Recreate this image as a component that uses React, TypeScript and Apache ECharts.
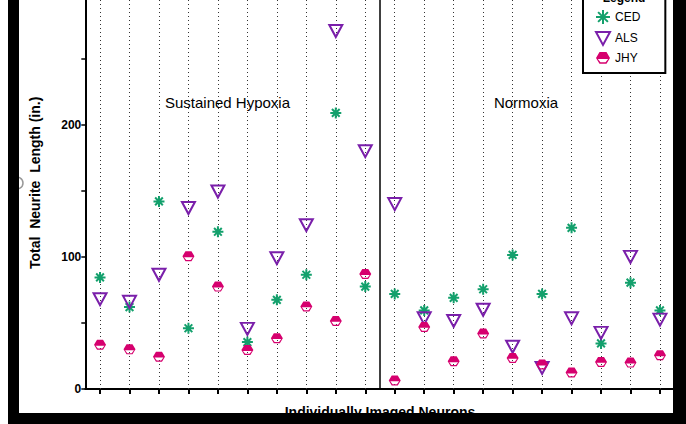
import React, { useEffect, useRef } from "react";
import * as echarts from "echarts";

const hypoxiaNeurons = ["H1", "H2", "H3", "H4", "H5", "H6", "H7", "H8", "H9", "H10"];
const normoxiaNeurons = ["N1", "N2", "N3", "N4", "N5", "N6", "N7", "N8", "N9", "N10"];
const categories = [...hypoxiaNeurons, ...normoxiaNeurons];

const cedValues = [84.5, 62, 142, 46, 119, 35.5, 67.5, 86.5, 209, 77.5, 72, 59.5, 69, 75.5, 101.5, 72, 122, 34.5, 80.5, 59.5];
const alsValues = [68, 66, 86.5, 137, 149.5, 45.5, 99, 124, 271, 180, 140, 53.5, 51.5, 60, 32, 16, 53.5, 42.5, 100, 52.5];
const jhyValues = [33.5, 30, 24.5, 100.5, 77.5, 29.5, 38.5, 62.5, 51.5, 87, 6.5, 47, 21, 42, 23.5, 18.5, 12.5, 20.5, 20, 25.5];

const yTicks = { min: 0, max: 300, interval: 100 };

const FONT = "'Liberation Sans', Arial, sans-serif";
const GREEN = "#13A06C";
const PURPLE = "#7A1FAA";
const MAGENTA = "#D6006E";

const ASTERISK = "path://M6,0L6,12M0,6L12,6M1.8,1.8L10.2,10.2M10.2,1.8L1.8,10.2";
const TRIANGLE = "path://M0,0L13,0L6.5,12Z";
const HALFHEX =
  "path://M3,0L9,0L12,5L9,10L3,10L0,5Z M1.6,5.9L3.8,8.8L8.2,8.8L10.4,5.9Z";

// the chart div is shifted up by OFF px so the plot top can sit above the visible page
const OFF = 20;

export default function App() {
  const ref = useRef<HTMLDivElement>(null);
  useEffect(() => {
    if (!ref.current) return;
    const chart = echarts.init(ref.current, null, { renderer: "svg" });
    chart.setOption({
      animation: false,
      backgroundColor: "#fff",
      grid: { left: 85.3, right: 11.3, top: OFF - 7.3, bottom: 32.3, containLabel: false },
      xAxis: [
        {
          type: "category",
          data: categories,
          boundaryGap: true,
          name: "Individually Imaged Neurons",
          nameLocation: "middle",
          nameGap: 16,
          nameTextStyle: { fontFamily: FONT, fontSize: 14, fontWeight: "bold", color: "#000" },
          axisLine: { show: true, lineStyle: { color: "#000", width: 2 } },
          axisTick: { show: true, alignWithLabel: true, length: 5, lineStyle: { color: "#000", width: 2 } },
          axisLabel: { show: false },
          splitLine: { show: false },
        },
        {
          type: "value",
          min: 0,
          max: categories.length,
          show: false,
        },
      ],
      yAxis: {
        type: "value",
        min: yTicks.min,
        max: yTicks.max,
        interval: yTicks.interval,
        name: "Total  Neurite  Length (in.)",
        nameLocation: "middle",
        nameGap: 43,
        nameTextStyle: { fontFamily: FONT, fontSize: 14, fontWeight: "bold", color: "#000", padding: [0, 0, 0, 16] },
        axisLine: { show: true, lineStyle: { color: "#000", width: 2 } },
        axisTick: { show: true, length: 4, lineStyle: { color: "#000", width: 1.5 } },
        minorTick: { show: true, splitNumber: 2, length: 4, lineStyle: { color: "#000", width: 1.5 } },
        axisLabel: { fontFamily: FONT, fontSize: 12, fontWeight: "bold", color: "#000", margin: 4, showMaxLabel: false },
        splitLine: { show: false },
      },
      legend: {
        orient: "vertical",
        left: 583,
        top: OFF - 18,
        z: 10,
        itemWidth: 14,
        itemHeight: 14,
        itemGap: 6,
        padding: [27, 25, 9, 12],
        borderColor: "#000",
        borderWidth: 2,
        backgroundColor: "#fff",
        textStyle: { fontFamily: FONT, fontSize: 12, color: "#000" },
        data: ["CED", "ALS", "JHY"],
      },
      series: [
        {
          name: "CED",
          type: "scatter",
          data: cedValues,
          symbol: ASTERISK,
          symbolSize: 11,
          itemStyle: { color: GREEN, borderColor: GREEN, borderWidth: 2, opacity: 1 },
          z: 3,
          markLine: {
            z: 1,
            silent: true,
            symbol: ["none", "none"],
            label: { show: false },
            lineStyle: { color: "#333", width: 1, type: [1, 3] },
            data: categories.map((c) => ({ xAxis: c })),
          },
        },
        {
          name: "ALS",
          type: "scatter",
          data: alsValues,
          symbol: TRIANGLE,
          symbolSize: [13, 12],
          itemStyle: { color: "rgba(255,255,255,0)", borderColor: PURPLE, borderWidth: 2, opacity: 1 },
          z: 3,
        },
        {
          name: "JHY",
          type: "scatter",
          data: jhyValues,
          symbol: HALFHEX,
          symbolSize: [12, 10],
          itemStyle: { color: MAGENTA, borderWidth: 0, opacity: 1 },
          z: 3,
        },
        {
          name: "divider",
          type: "scatter",
          xAxisIndex: 1,
          data: [],
          markLine: {
            z: 1,
            silent: true,
            symbol: ["none", "none"],
            label: { show: false },
            lineStyle: { color: "#000", width: 1.5, type: "solid" },
            data: [{ xAxis: hypoxiaNeurons.length }],
          },
        },
      ],
      graphic: [
        {
          type: "text",
          x: 227.5,
          y: OFF + 102,
          style: { text: "Sustained Hypoxia", fontFamily: FONT, fontSize: 15, fill: "#000", align: "center", verticalAlign: "middle" },
          z: 20,
        },
        {
          type: "text",
          x: 526,
          y: OFF + 102,
          style: { text: "Normoxia", fontFamily: FONT, fontSize: 15, fill: "#000", align: "center", verticalAlign: "middle" },
          z: 20,
        },
        {
          type: "text",
          x: 624,
          y: OFF + 4,
          style: { text: "Legend", fontFamily: FONT, fontSize: 12, fontWeight: "bold", fill: "#000", align: "center", verticalAlign: "bottom" },
          z: 30,
        },
        {
          type: "circle",
          shape: { cx: 17, cy: OFF + 183, r: 6 },
          style: { fill: "none", stroke: "#999", lineWidth: 1.5 },
          z: 90,
        },
        { type: "rect", shape: { x: 8, y: 0, width: 11, height: OFF + 424 }, style: { fill: "#000" }, z: 100 },
        { type: "rect", shape: { x: 8, y: OFF + 413, width: 678, height: 11 }, style: { fill: "#000" }, z: 100 },
        { type: "rect", shape: { x: 673, y: 0, width: 13, height: OFF + 424 }, style: { fill: "#000" }, z: 100 },
        { type: "rect", shape: { x: 0, y: 0, width: 8, height: OFF + 424 }, style: { fill: "#fff" }, z: 100 },
      ],
    });
    return () => chart.dispose();
  }, []);
  return (
    <div
      ref={ref}
      style={{ position: "absolute", left: 0, top: -OFF, width: 686, height: 424 + OFF }}
    />
  );
}
